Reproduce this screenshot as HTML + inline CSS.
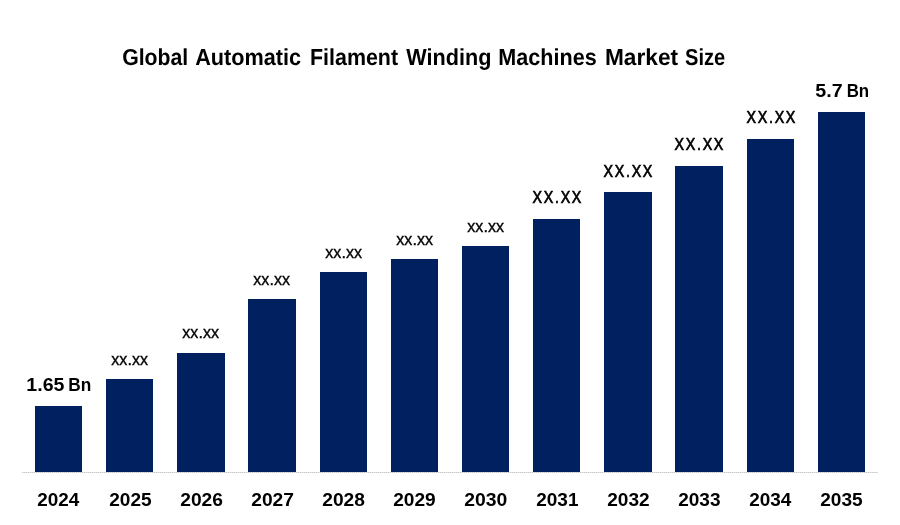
<!DOCTYPE html>
<html lang="en">
<head>
<meta charset="utf-8">
<title>Global Automatic Filament Winding Machines Market Size</title>
<style>
html,body{margin:0;padding:0;background:#fff;}
body{width:900px;height:525px;overflow:hidden;}
svg{display:block;}
text{font-family:"Liberation Sans",sans-serif;fill:#000;}
.t{font-weight:700;font-size:23.1px;text-rendering:geometricPrecision;}
.y{font-weight:700;font-size:17.7px;}
.b{font-weight:700;font-size:18px;}
.l{font-size:16.4px;stroke:#000;stroke-width:0.35px;}
.u{font-size:16.7px;stroke:#000;stroke-width:0.7px;}
</style>
</head>
<body>
<svg width="900" height="525" viewBox="0 0 900 525">
<rect x="0" y="0" width="900" height="525" fill="#ffffff"/>
<g class="t">
<text y="65"><tspan x="122.14" textLength="66.12" lengthAdjust="spacingAndGlyphs">Global</tspan> <tspan x="195.16" textLength="105.88" lengthAdjust="spacingAndGlyphs">Automatic</tspan> <tspan x="309.96" textLength="88.14" lengthAdjust="spacingAndGlyphs">Filament</tspan> <tspan x="406.30" textLength="85.08" lengthAdjust="spacingAndGlyphs">Winding</tspan> <tspan x="498.35" textLength="98.32" lengthAdjust="spacingAndGlyphs">Machines</tspan> <tspan x="604.88" textLength="73.23" lengthAdjust="spacingAndGlyphs">Market</tspan> <tspan x="684.99" textLength="40.21" lengthAdjust="spacingAndGlyphs">Size</tspan></text>
</g>
<rect x="22" y="472" width="856" height="1" fill="#e3e3e3" shape-rendering="crispEdges"/>
<line x1="22" y1="472.5" x2="878" y2="472.5" stroke="#c6c6c6" stroke-width="1" stroke-dasharray="1 1" shape-rendering="crispEdges"/>
<g fill="#002060">
<rect x="35" y="406" width="47" height="66"/>
<rect x="106" y="379" width="47" height="93"/>
<rect x="177" y="353" width="48" height="119"/>
<rect x="248" y="299" width="48" height="173"/>
<rect x="320" y="272" width="47" height="200"/>
<rect x="391" y="259" width="47" height="213"/>
<rect x="462" y="246" width="47" height="226"/>
<rect x="533" y="219" width="47" height="253"/>
<rect x="604" y="192" width="48" height="280"/>
<rect x="675" y="166" width="48" height="306"/>
<rect x="747" y="139" width="47" height="333"/>
<rect x="818" y="112" width="47" height="360"/>
</g>
<g class="l">
<text x="111.30" y="365" textLength="36.70" lengthAdjust="spacingAndGlyphs">xx.xx</text>
<text x="182.30" y="338" textLength="36.70" lengthAdjust="spacingAndGlyphs">xx.xx</text>
<text x="253.30" y="285" textLength="36.70" lengthAdjust="spacingAndGlyphs">xx.xx</text>
<text x="325.30" y="258" textLength="36.70" lengthAdjust="spacingAndGlyphs">xx.xx</text>
<text x="396.30" y="245" textLength="36.70" lengthAdjust="spacingAndGlyphs">xx.xx</text>
<text x="467.30" y="232" textLength="36.70" lengthAdjust="spacingAndGlyphs">xx.xx</text>
</g>
<g class="u">
<text transform="translate(532.45,203) scale(0.855,1)" x="0.09 13.19 26.30 33.07 46.05" y="0">XX.XX</text>
<text transform="translate(603.45,177) scale(0.855,1)" x="0.09 13.19 26.30 33.07 46.05" y="0">XX.XX</text>
<text transform="translate(674.45,150) scale(0.855,1)" x="0.09 13.19 26.30 33.07 46.05" y="0">XX.XX</text>
<text transform="translate(746.45,123) scale(0.855,1)" x="0.09 13.19 26.30 33.07 46.05" y="0">XX.XX</text>
</g>
<text class="b" y="390.8"><tspan x="26.38" textLength="38.11" lengthAdjust="spacingAndGlyphs">1.65</tspan> <tspan x="68.22" textLength="23.01" lengthAdjust="spacingAndGlyphs">Bn</tspan></text>
<text class="b" y="96.8"><tspan x="815.39" textLength="27.30" lengthAdjust="spacingAndGlyphs">5.7</tspan> <tspan x="846.65" textLength="22.47" lengthAdjust="spacingAndGlyphs">Bn</tspan></text>
<g class="y">
<text x="37.31" y="506" textLength="42.07" lengthAdjust="spacingAndGlyphs">2024</text>
<text x="109.20" y="506" textLength="42.47" lengthAdjust="spacingAndGlyphs">2025</text>
<text x="180.20" y="506" textLength="42.78" lengthAdjust="spacingAndGlyphs">2026</text>
<text x="251.20" y="506" textLength="42.78" lengthAdjust="spacingAndGlyphs">2027</text>
<text x="322.20" y="506" textLength="42.78" lengthAdjust="spacingAndGlyphs">2028</text>
<text x="393.20" y="506" textLength="42.57" lengthAdjust="spacingAndGlyphs">2029</text>
<text x="464.19" y="506" textLength="43.09" lengthAdjust="spacingAndGlyphs">2030</text>
<text x="536.21" y="506" textLength="42.27" lengthAdjust="spacingAndGlyphs">2031</text>
<text x="607.20" y="506" textLength="42.47" lengthAdjust="spacingAndGlyphs">2032</text>
<text x="678.20" y="506" textLength="42.37" lengthAdjust="spacingAndGlyphs">2033</text>
<text x="749.21" y="506" textLength="42.17" lengthAdjust="spacingAndGlyphs">2034</text>
<text x="820.20" y="506" textLength="42.47" lengthAdjust="spacingAndGlyphs">2035</text>
</g>
</svg>
</body>
</html>
